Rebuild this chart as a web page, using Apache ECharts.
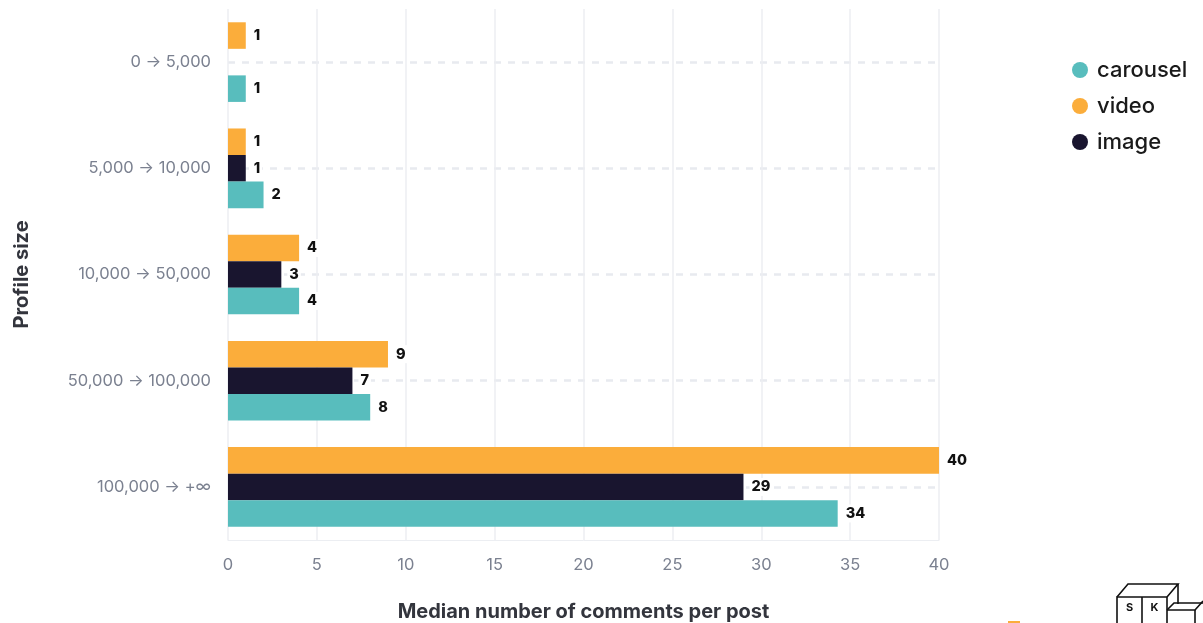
<!DOCTYPE html>
<html>
<head>
<meta charset="utf-8">
<script src="https://cdn.jsdelivr.net/npm/echarts@6/dist/echarts.min.js"></script>
<style>
html,body{margin:0;padding:0;background:#fff;}
#chart{width:1203px;height:623px;}
</style>
</head>
<body>
<div id="chart"></div>
<script>
// Data (categories top to bottom)
const categories = ['0 → 5,000', '5,000 → 10,000', '10,000 → 50,000', '50,000 → 100,000', '100,000 → +∞'];
const videoValues = [1, 1, 4, 9, 40];
const imageValues = [null, 1, 3, 7, 29];
const carouselValues = [1, 2, 4, 8, 34.3];
const xTicks = [0, 5, 10, 15, 20, 25, 30, 35, 40];
const legendOrder = ['carousel', 'video', 'image'];

const COLORS = { carousel: '#58bdbd', video: '#fbad3b', image: '#19152f' };
const FONT = 'Inter, "Open Sans", sans-serif';

function labelCfg() {
  return {
    show: true,
    position: 'right',
    distance: 6,
    color: '#111',
    fontFamily: FONT,
    fontWeight: 800,
    fontSize: 14.5,
    backgroundColor: '#fff',
    padding: [3, 2, 0, 2],
    formatter: p => p.value == null ? '' : String(Math.round(p.value))
  };
}

function mk(name, data) {
  return {
    name: name,
    type: 'bar',
    data: data,
    barGap: '0%',
    barCategoryGap: '25%',
    itemStyle: { color: COLORS[name] },
    label: labelCfg(),
    emphasis: { disabled: true },
    z: 3
  };
}

const chart = echarts.init(document.getElementById('chart'), null, { renderer: 'canvas' });
chart.setOption({
  animation: false,
  backgroundColor: '#fff',
  grid: { left: 228, right: 264, top: 9, bottom: 83, containLabel: false, outerBoundsMode: 'none' },
  legend: {
    data: legendOrder,
    orient: 'vertical',
    left: 1067,
    top: 54,
    icon: 'circle',
    itemWidth: 16,
    itemHeight: 16,
    itemGap: 14,
    selectedMode: false,
    textStyle: { color: '#1a1a1a', fontSize: 22, fontFamily: FONT, fontWeight: 500, padding: [0, 0, 0, 4] }
  },
  xAxis: {
    type: 'value',
    min: xTicks[0],
    max: xTicks[xTicks.length - 1],
    interval: xTicks[1] - xTicks[0],
    name: 'Median number of comments per post',
    nameLocation: 'middle',
    nameGap: 62,
    nameTextStyle: { color: '#33353d', fontSize: 20, fontWeight: 700, fontFamily: FONT },
    axisLine: { show: true, lineStyle: { color: '#eceef2', width: 1 } },
    axisTick: { show: false },
    axisLabel: { color: '#7b8190', fontSize: 16.5, margin: 17, fontFamily: FONT },
    splitLine: { show: true, lineStyle: { color: '#eceef2', width: 1.5 } }
  },
  yAxis: {
    type: 'category',
    data: categories,
    inverse: true,
    name: 'Profile size',
    nameLocation: 'middle',
    nameGap: 196,
    nameTextStyle: { color: '#33353d', fontSize: 20, fontWeight: 700, fontFamily: FONT },
    axisLine: { show: false },
    axisTick: { show: false, alignWithLabel: true },
    axisLabel: { color: '#7b8190', fontSize: 16.5, margin: 17, fontFamily: FONT },
    splitLine: { show: true, alignWithLabel: true, lineStyle: { color: '#e8eaef', width: 2.5, type: [7, 7] } }
  },
  series: [
    mk('video', videoValues),
    mk('image', imageValues),
    mk('carousel', carouselValues)
  ],
  graphic: [
    { type: 'polyline', shape: { points: [[1117, 623], [1117, 597], [1167, 597], [1167, 623]] }, style: { fill: null, stroke: '#111', lineWidth: 1.6 } },
    { type: 'line', shape: { x1: 1142, y1: 597, x2: 1142, y2: 623 }, style: { stroke: '#111', lineWidth: 1.6 } },
    { type: 'polyline', shape: { points: [[1117, 597], [1128, 584], [1178, 584], [1167, 597]] }, style: { fill: null, stroke: '#111', lineWidth: 1.6 } },
    { type: 'polyline', shape: { points: [[1178, 584], [1178, 604]] }, style: { fill: null, stroke: '#111', lineWidth: 1.6 } },
    { type: 'polyline', shape: { points: [[1167, 610], [1174, 603], [1203, 603]] }, style: { fill: null, stroke: '#111', lineWidth: 1.6 } },
    { type: 'polyline', shape: { points: [[1167, 610], [1195, 610], [1203, 601]] }, style: { fill: null, stroke: '#111', lineWidth: 1.6 } },
    { type: 'line', shape: { x1: 1195, y1: 610, x2: 1195, y2: 623 }, style: { stroke: '#111', lineWidth: 1.6 } },
    { type: 'text', style: { text: 'S', x: 1129.5, y: 608, align: 'center', verticalAlign: 'middle', font: 'bold 11px ' + FONT, fill: '#111' } },
    { type: 'text', style: { text: 'K', x: 1154.5, y: 608, align: 'center', verticalAlign: 'middle', font: 'bold 11px ' + FONT, fill: '#111' } },
    { type: 'line', shape: { x1: 1008, y1: 622, x2: 1020, y2: 622 }, style: { stroke: '#fbad3b', lineWidth: 2 } }
  ]
});
</script>
</body>
</html>
